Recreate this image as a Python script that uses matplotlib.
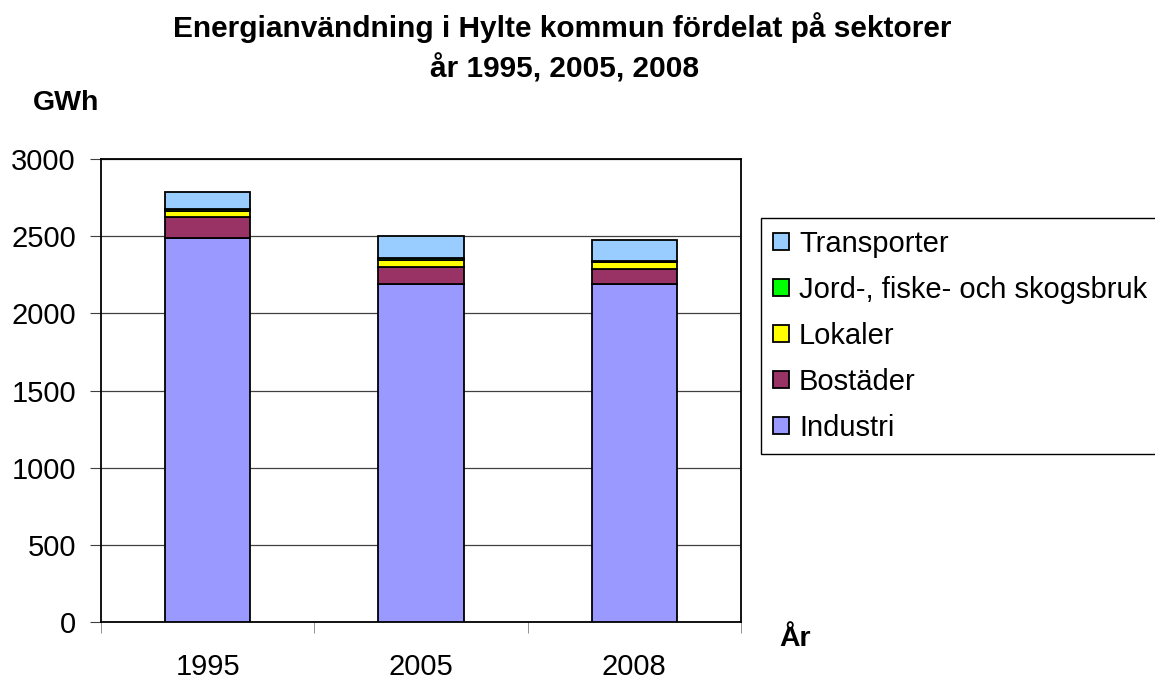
import matplotlib
matplotlib.use("Agg")
import matplotlib.pyplot as plt
import numpy as np

plt.rcParams["font.family"] = ["Liberation Sans", "DejaVu Sans"]

# ── data (GWh) ────────────────────────────────────────────────────────────────

years       = ["1995", "2005", "2008"]
industri    = [2490, 2190, 2190]
bostader    = [135, 108, 97]
lokaler     = [38, 46, 43]
jord        = [15, 13, 11]
transporter = [107, 144, 134]

sectors = ["Industri", "Bostäder", "Lokaler",
           "Jord-, fiske- och skogsbruk", "Transporter"]
colors  = ["#9999FF", "#993366", "#FFFF00", "#00FF00", "#99CCFF"]
yticks  = [0, 500, 1000, 1500, 2000, 2500, 3000]

# ── figure ────────────────────────────────────────────────────────────────────

fig = plt.figure(figsize=(11.55, 6.82), dpi=100)
ax = fig.add_axes([101 / 1155, 60 / 682, 640 / 1155, 463 / 682])

x = np.arange(len(years))
bottom = np.zeros(len(years))
handles = []
for name, vals, col in zip(sectors,
                           [industri, bostader, lokaler, jord, transporter],
                           colors):
    h = ax.bar(x, vals, 0.4, bottom=bottom, color=col,
               edgecolor="black", linewidth=1.3, label=name, zorder=3)
    handles.append(h)
    bottom += np.array(vals)

ax.set_xlim(-0.5, 2.5)
ax.set_ylim(0, 3000)
ax.set_yticks(yticks)
ax.set_xticks(x)
ax.set_xticklabels(years)
ax.set_xticks([-0.5, 0.5, 1.5, 2.5], minor=True)
ax.tick_params(axis="x", which="major", length=0, pad=22, labelsize=21)
ax.tick_params(axis="x", which="minor", length=8, color="#808080",
               direction="out")
ax.tick_params(axis="y", labelsize=21, length=8, direction="out",
               pad=10, color="#404040")
ax.grid(axis="y", color="#404040", linewidth=0.9, zorder=0)

for sp in ax.spines.values():
    sp.set_color("black")
    sp.set_linewidth(1.3)

fig.text(562 / 1155, 1 - 37 / 682, "Energianvändning i Hylte kommun fördelat på sektorer",
         ha="center", va="baseline", fontsize=21.5, fontweight="bold")
fig.text(564 / 1155, 1 - 77 / 682, "år 1995, 2005, 2008",
         ha="center", va="baseline", fontsize=21.5, fontweight="bold")
fig.text(33 / 1155, 1 - 110 / 682, "GWh", ha="left", va="baseline",
         fontsize=20.5, fontweight="bold")
fig.text(779 / 1155, 1 - 646 / 682, "År", ha="left", va="baseline",
         fontsize=20.5, fontweight="bold")

leg = fig.legend(handles[::-1], sectors[::-1],
                 loc="upper left", bbox_to_anchor=(761 / 1155, 1 - 218 / 682),
                 fontsize=21, frameon=True, fancybox=False, framealpha=1,
                 edgecolor="black", handlelength=0.55, handleheight=0.55,
                 handletextpad=0.35, labelspacing=0.62, borderpad=0.4,
                 borderaxespad=0)
leg.get_frame().set_linewidth(1.0)

fig.savefig("out.png", dpi=100)
